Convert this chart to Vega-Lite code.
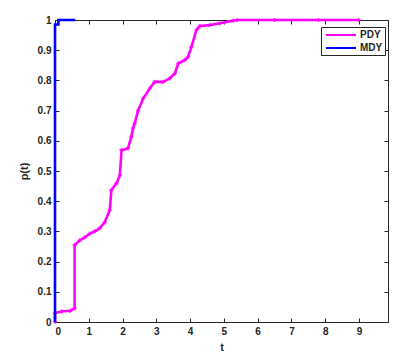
{
  "$schema": "https://vega.github.io/schema/vega-lite/v6.json",
  "width": 333,
  "height": 302,
  "autosize": {"type": "none"},
  "padding": {"left": 55, "top": 20, "right": 24, "bottom": 36},
  "background": "white",
  "config": {
    "view": {"stroke": "#262626", "strokeWidth": 1},
    "font": "Liberation Sans",
    "axis": {"domain": false, "grid": false, "tickColor": "#262626", "labelColor": "#262626", "titleColor": "#262626", "labelFont": "Liberation Sans", "titleFont": "Liberation Sans", "labelFontWeight": "bold", "titleFontWeight": "bold", "labelFontSize": 10, "titleFontSize": 11}
  },
  "data": {"values": [
    {"series": "PDY", "i": 0, "t": 0, "p": 0.0},
    {"series": "PDY", "i": 1, "t": 0, "p": 0.03},
    {"series": "PDY", "i": 2, "t": 0.2, "p": 0.035},
    {"series": "PDY", "i": 3, "t": 0.45, "p": 0.037},
    {"series": "PDY", "i": 4, "t": 0.58, "p": 0.045},
    {"series": "PDY", "i": 5, "t": 0.58, "p": 0.255},
    {"series": "PDY", "i": 6, "t": 0.73, "p": 0.27},
    {"series": "PDY", "i": 7, "t": 0.88, "p": 0.28},
    {"series": "PDY", "i": 8, "t": 1.03, "p": 0.293},
    {"series": "PDY", "i": 9, "t": 1.18, "p": 0.3},
    {"series": "PDY", "i": 10, "t": 1.32, "p": 0.31},
    {"series": "PDY", "i": 11, "t": 1.47, "p": 0.33},
    {"series": "PDY", "i": 12, "t": 1.62, "p": 0.37},
    {"series": "PDY", "i": 13, "t": 1.67, "p": 0.437},
    {"series": "PDY", "i": 14, "t": 1.82, "p": 0.459},
    {"series": "PDY", "i": 15, "t": 1.92, "p": 0.486},
    {"series": "PDY", "i": 16, "t": 1.97, "p": 0.569},
    {"series": "PDY", "i": 17, "t": 2.16, "p": 0.575},
    {"series": "PDY", "i": 18, "t": 2.26, "p": 0.613},
    {"series": "PDY", "i": 19, "t": 2.31, "p": 0.641},
    {"series": "PDY", "i": 20, "t": 2.36, "p": 0.658},
    {"series": "PDY", "i": 21, "t": 2.46, "p": 0.7},
    {"series": "PDY", "i": 22, "t": 2.61, "p": 0.74},
    {"series": "PDY", "i": 23, "t": 2.81, "p": 0.774},
    {"series": "PDY", "i": 24, "t": 2.95, "p": 0.795},
    {"series": "PDY", "i": 25, "t": 3.2, "p": 0.795},
    {"series": "PDY", "i": 26, "t": 3.4, "p": 0.807},
    {"series": "PDY", "i": 27, "t": 3.55, "p": 0.823},
    {"series": "PDY", "i": 28, "t": 3.65, "p": 0.856},
    {"series": "PDY", "i": 29, "t": 3.84, "p": 0.867},
    {"series": "PDY", "i": 30, "t": 3.94, "p": 0.878},
    {"series": "PDY", "i": 31, "t": 4.04, "p": 0.911},
    {"series": "PDY", "i": 32, "t": 4.19, "p": 0.967},
    {"series": "PDY", "i": 33, "t": 4.29, "p": 0.98},
    {"series": "PDY", "i": 34, "t": 4.58, "p": 0.983},
    {"series": "PDY", "i": 35, "t": 4.88, "p": 0.989},
    {"series": "PDY", "i": 36, "t": 5.28, "p": 0.998},
    {"series": "PDY", "i": 37, "t": 5.4, "p": 1.0},
    {"series": "PDY", "i": 38, "t": 6.5, "p": 1.0},
    {"series": "PDY", "i": 39, "t": 7.8, "p": 1.0},
    {"series": "PDY", "i": 40, "t": 9.0, "p": 1.0},
    {"series": "MDY", "i": 0, "t": 0, "p": 0.0},
    {"series": "MDY", "i": 1, "t": 0, "p": 0.985},
    {"series": "MDY", "i": 2, "t": 0.1, "p": 0.985},
    {"series": "MDY", "i": 3, "t": 0.1, "p": 1.0},
    {"series": "MDY", "i": 4, "t": 0.6, "p": 1.0}
  ]},
  "layer": [
    {
      "transform": [{"filter": "datum.series == 'PDY'"}],
      "mark": {"type": "line", "strokeWidth": 2.6},
      "encoding": {
        "x": {"field": "t", "type": "quantitative", "scale": {"domain": [0, 9.86], "nice": false, "zero": false},
              "axis": {"orient": "bottom", "title": "t", "values": [0,1,2,3,4,5,6,7,8,9], "tickSize": -4, "labelPadding": 8, "titlePadding": 5}},
        "y": {"field": "p", "type": "quantitative", "scale": {"domain": [0, 1], "nice": false},
              "axis": {"orient": "left", "title": "p(t)", "format": "~g", "values": [0,0.1,0.2,0.3,0.4,0.5,0.6,0.7,0.8,0.9,1], "tickSize": -4, "labelPadding": 8, "titlePadding": 8}},
        "color": {"field": "series", "type": "nominal",
                  "scale": {"domain": ["PDY", "MDY"], "range": ["#ff00ff", "#0000ff"]},
                  "legend": {"title": null, "orient": "none", "legendX": 266, "legendY": 7, "symbolType": "M-3,0H3", "symbolSize": 100, "symbolOffset": 12, "symbolStrokeWidth": 2, "strokeColor": "#262626", "fillColor": "white", "padding": 2, "labelFontWeight": "bold", "labelFontSize": 10, "labelFont": "Liberation Sans", "labelColor": "#262626", "labelOffset": 13, "rowPadding": 2}},
        "order": {"field": "i", "type": "quantitative"}
      }
    },
    {
      "transform": [{"filter": "datum.series == 'PDY'"}],
      "mark": {"type": "point", "shape": "cross", "filled": true, "size": 18, "color": "#ff00ff"},
      "encoding": {
        "x": {"field": "t", "type": "quantitative", "axis": {"orient": "top", "title": null, "labels": false, "values": [0,1,2,3,4,5,6,7,8,9], "tickSize": -4}},
        "y": {"field": "p", "type": "quantitative", "axis": {"orient": "right", "title": null, "labels": false, "values": [0,0.1,0.2,0.3,0.4,0.5,0.6,0.7,0.8,0.9,1], "tickSize": -4}}
      }
    },
    {
      "transform": [{"filter": "datum.series == 'MDY'"}],
      "mark": {"type": "line", "strokeWidth": 2.6},
      "encoding": {
        "x": {"field": "t", "type": "quantitative", "axis": null},
        "y": {"field": "p", "type": "quantitative", "axis": null},
        "color": {"field": "series", "type": "nominal"},
        "order": {"field": "i", "type": "quantitative"}
      }
    }
  ],
  "resolve": {"axis": {"x": "independent", "y": "independent"}}
}
